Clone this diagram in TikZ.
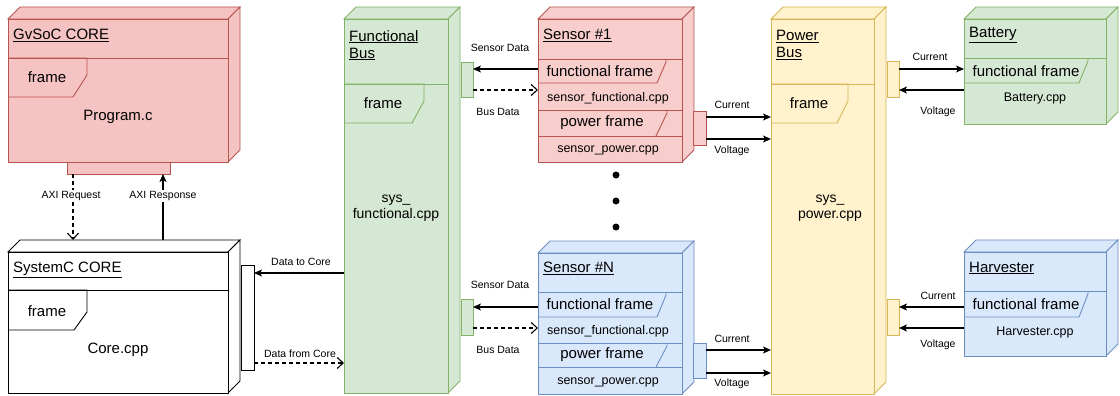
\documentclass[tikz,border=0pt]{standalone}
\usepackage{fontspec}
\setmainfont{Liberation Sans}
\usetikzlibrary{arrows.meta,calc}
\definecolor{gvF}{HTML}{F4C3C2}
\definecolor{redF}{HTML}{F8CECC}
\definecolor{redS}{HTML}{B85450}
\definecolor{grnF}{HTML}{D5E8D4}
\definecolor{grnS}{HTML}{82B366}
\definecolor{bluF}{HTML}{DAE8FC}
\definecolor{bluS}{HTML}{6C8EBF}
\definecolor{ylwF}{HTML}{FFF2CC}
\definecolor{ylwS}{HTML}{D6B656}
\newcommand\cubebox[7]{%
  \coordinate (#1-a) at (#2,#3);
  \coordinate (#1-b) at ($(#1-a)+(12,-12)$);
  \coordinate (#1-f) at (#4,#3);
  \coordinate (#1-c) at ($(#1-f)+(12,-12)$);
  \coordinate (#1-e) at (#4,#5);
  \coordinate (#1-d) at ($(#1-e)+(12,-12)$);
  \coordinate (#1-back) at (#1-b);
  \filldraw[#6, fill=#7] (#1-a) -- (#1-b) -- (#1-c) -- (#1-f) -- cycle;
  \filldraw[#6, fill=#7] (#1-f) -- (#1-c) -- (#1-d) -- (#1-e) -- cycle;
  \node[#6, fill=#7, rectangle, inner sep=0pt, outer sep=0pt, minimum width=#4-#2, minimum height=#5-#3, anchor=north west] (#1) at (#1-a) {};
}
\tikzset{
  gvbox/.style={fill=gvF, draw=redS, line width=0.9pt},
  rbox/.style={fill=redF, draw=redS, line width=0.9pt},
  gbox/.style={fill=grnF, draw=grnS, line width=0.9pt},
  bbox/.style={fill=bluF, draw=bluS, line width=0.9pt},
  ybox/.style={fill=ylwF, draw=ylwS, line width=0.9pt},
  wbox/.style={fill=white, draw=black, line width=0.9pt},
  rline/.style={draw=redS, line width=0.9pt},
  gline/.style={draw=grnS, line width=0.9pt},
  bline/.style={draw=bluS, line width=0.9pt},
  yline/.style={draw=ylwS, line width=0.9pt},
  kline/.style={draw=black, line width=0.9pt},
  port/.style={rectangle, inner sep=0pt, outer sep=0pt, anchor=north west},
  big/.style={font=\fontsize{15}{17}\selectfont, inner sep=0pt},
  mid/.style={font=\fontsize{14}{16}\selectfont, inner sep=0pt, align=center},
  cpp/.style={font=\fontsize{12.5}{14}\selectfont, inner sep=0pt},
  lab/.style={font=\fontsize{10.5}{12}\selectfont, inner sep=1pt},
  conn/.style={draw=black, line width=1.1pt},
  dconn/.style={draw=black, line width=1.1pt, dash pattern=on 4pt off 3pt},
  solidtip/.style={-{Stealth[length=8pt,width=7pt,inset=2pt]}},
  opentip/.style={-{Straight Barb[length=6pt,width=11pt]}},
  dotnode/.style={circle, fill=black, inner sep=0pt, minimum size=7pt}
}
\begin{document}
\begin{tikzpicture}[x=1pt,y=-1pt]
\useasboundingbox (0,0) rectangle (1120,396);

% ---------- GvSoC CORE ----------
\cubebox{gv}{8}{19}{228}{162}{gvbox}{gvF}
\draw[rline] (8,58) -- (228,58);
\draw[rline] (8,58) -- (87,58) -- (87,75) -- (73,97) -- (8,97);
\node[gvbox, port, minimum width=103, minimum height=12] (gvport) at (67,162) {};
\node[big, anchor=west] (gvt) at (13,35) {\underline{GvSoC CORE}};
\node[big] (gvf) at (47,77) {frame};
\node[big] (gvp) at (118,117) {Program.c};

% ---------- SystemC CORE ----------
\cubebox{sc}{8}{252}{228}{393}{wbox}{white}
\draw[kline] (8,290) -- (228,290);
\draw[kline] (8,290) -- (87,290) -- (87,312) -- (74,330) -- (8,330);
\node[wbox, port, minimum width=13, minimum height=105] (scport) at (241,265) {};
\node[big, anchor=west] (sct) at (13,270) {\underline{SystemC CORE}};
\node[big] (scf) at (47,311) {frame};
\node[big] (scc) at (118,350) {Core.cpp};

% ---------- Functional Bus ----------
\cubebox{fb}{344}{19}{448}{393}{gbox}{grnF}
\draw[gline] (344,84) -- (448,84);
\draw[gline] (344,84) -- (424,84) -- (424,101) -- (412,123) -- (344,123);
\node[gbox, port, minimum width=12, minimum height=35] (fbp1) at (461,62) {};
\node[gbox, port, minimum width=12, minimum height=36] (fbp2) at (461,299) {};
\node[big, anchor=north west, align=left] (fbt) at (349,30) {\underline{Functional}\\\underline{Bus}};
\node[big] (fbf) at (383,103) {frame};
\node[mid] (fbc) at (396,208) {sys\_\\functional.cpp};

% ---------- Sensor #1 ----------
\cubebox{s1}{538}{19}{682}{162}{rbox}{redF}
\draw[rline] (538,59) -- (682,59);
\draw[rline] (538,83) -- (657,83) -- (666,62) -- (666,59);
\draw[rline] (538,110) -- (682,110);
\draw[rline] (667,110) -- (667,113) -- (656,136);
\draw[rline] (538,136) -- (682,136);
\node[rbox, port, minimum width=13, minimum height=34] (s1p) at (693,111) {};
\node[big, anchor=west] (s1t) at (543,35) {\underline{Sensor \#1}};
\node[big] (s1ff) at (600,71) {functional frame};
\node[cpp] (s1fc) at (608,98) {sensor\_functional.cpp};
\node[big] (s1pf) at (602,123) {power frame};
\node[cpp] (s1pc) at (608,150) {sensor\_power.cpp};

% ---------- dots ----------
\node[dotnode] (d1) at (616,175) {};
\node[dotnode] (d2) at (616,201) {};
\node[dotnode] (d3) at (616,227) {};

% ---------- Sensor #N ----------
\cubebox{sN}{538}{253}{682}{394}{bbox}{bluF}
\draw[bline] (538,292) -- (682,292);
\draw[bline] (538,317) -- (657,317) -- (666,295) -- (666,292);
\draw[bline] (538,343) -- (682,343);
\draw[bline] (667,343) -- (667,346) -- (656,367);
\draw[bline] (538,367) -- (682,367);
\node[bbox, port, minimum width=13, minimum height=35] (sNp) at (693,343) {};
\node[big, anchor=west] (sNt) at (543,268) {\underline{Sensor \#N}};
\node[big] (sNff) at (600,304) {functional frame};
\node[cpp] (sNfc) at (608,331) {sensor\_functional.cpp};
\node[big] (sNpf) at (602,355) {power frame};
\node[cpp] (sNpc) at (608,382) {sensor\_power.cpp};

% ---------- Power Bus ----------
\cubebox{pb}{771}{19}{874}{394}{ybox}{ylwF}
\draw[yline] (771,84) -- (874,84);
\draw[yline] (771,84) -- (848,84) -- (848,101) -- (837,123) -- (771,123);
\node[ybox, port, minimum width=12, minimum height=36] (pbp1) at (887,61) {};
\node[ybox, port, minimum width=12, minimum height=36] (pbp2) at (887,299) {};
\node[big, anchor=north west, align=left] (pbt) at (776,30) {\underline{Power}\\\underline{Bus}};
\node[big] (pbf) at (809,103) {frame};
\node[mid] (pbc) at (830,208) {sys\_\\power.cpp};

% ---------- Battery ----------
\cubebox{bat}{964}{19}{1106}{124}{gbox}{grnF}
\draw[gline] (964,58) -- (1106,58);
\draw[gline] (964,83) -- (1079,83) -- (1088,61) -- (1088,58);
\node[big, anchor=west] (batt) at (969,35) {\underline{Battery}};
\node[big] (batf) at (1026,71) {functional frame};
\node[cpp] (batc) at (1035,98) {Battery.cpp};

% ---------- Harvester ----------
\cubebox{hv}{964}{252}{1106}{356}{bbox}{bluF}
\draw[bline] (964,291) -- (1106,291);
\draw[bline] (964,317) -- (1079,317) -- (1088,294) -- (1088,291);
\node[big, anchor=west] (hvt) at (969,268) {\underline{Harvester}};
\node[big] (hvf) at (1026,304) {functional frame};
\node[cpp] (hvc) at (1035,332) {Harvester.cpp};

% ---------- connectors ----------
\draw[dconn, opentip] (gvport.south -| 73,0) -- (sc-back -| 73,0);
\draw[conn, solidtip] (sc-back -| 163,0) -- (gvport.south -| 163,0);
\node[lab, fill=white] (laxq) at (71,196) {AXI Request};
\node[lab, fill=white] (laxr) at (163,196) {AXI Response};

\draw[conn, solidtip] (fb.west |- 0,273) -- (scport.east |- 0,273);
\draw[dconn, opentip] (scport.east |- 0,363) -- (fb.west |- 0,363);
\node[lab] (ldtc) at (301,262) {Data to Core};
\node[lab] (ldfc) at (300,354) {Data from Core};

\draw[conn, solidtip] (s1.west |- 0,69) -- (fbp1.east |- 0,69);
\draw[dconn, opentip] (fbp1.east |- 0,90) -- (s1.west |- 0,90);
\node[lab] (lsd1) at (500,48) {Sensor Data};
\node[lab] (lbd1) at (498,112) {Bus Data};

\draw[conn, solidtip] (sN.west |- 0,307) -- (fbp2.east |- 0,307);
\draw[dconn, opentip] (fbp2.east |- 0,328) -- (sN.west |- 0,328);
\node[lab] (lsdN) at (500,285) {Sensor Data};
\node[lab] (lbdN) at (498,350) {Bus Data};

\draw[conn, solidtip] (s1p.east |- 0,117) -- (pb.west |- 0,117);
\draw[conn, solidtip] (s1p.east |- 0,139) -- (pb.west |- 0,139);
\node[lab] (lc1) at (732,105) {Current};
\node[lab] (lv1) at (732,151) {Voltage};

\draw[conn, solidtip] (sNp.east |- 0,350) -- (pb.west |- 0,350);
\draw[conn, solidtip] (sNp.east |- 0,373) -- (pb.west |- 0,373);
\node[lab] (lcN) at (732,339) {Current};
\node[lab] (lvN) at (732,384) {Voltage};

\draw[conn, solidtip] (pbp1.east |- 0,69) -- (bat.west |- 0,69);
\draw[conn, solidtip] (bat.west |- 0,90) -- (pbp1.east |- 0,90);
\node[lab] (lcb) at (930,57) {Current};
\node[lab] (lvb) at (938,112) {Voltage};

\draw[conn, solidtip] (hv.west |- 0,307) -- (pbp2.east |- 0,307);
\draw[conn, solidtip] (hv.west |- 0,328) -- (pbp2.east |- 0,328);
\node[lab] (lch) at (938,296) {Current};
\node[lab] (lvh) at (938,345) {Voltage};
\end{tikzpicture}
\end{document}
